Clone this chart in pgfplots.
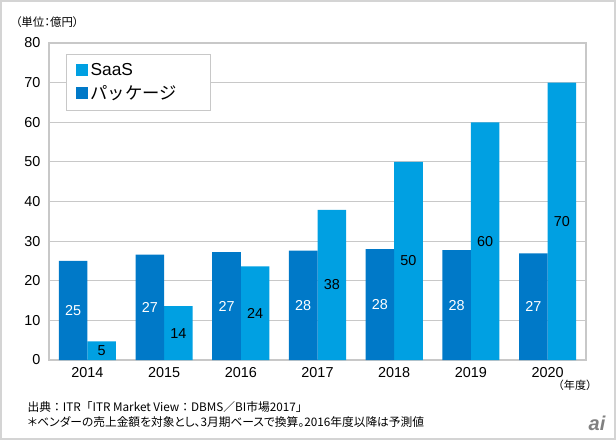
\documentclass[border=0pt]{standalone}
\usepackage{pgfplots}
\usepackage{pgfplotstable}
\pgfplotsset{compat=1.18}
\usepackage{fontspec}
\setmainfont{Liberation Sans}
\newfontfamily\jp{Noto Sans CJK JP}
\newfontfamily\jpp[RawFeature=+palt]{Noto Sans CJK JP}
\definecolor{pkg}{RGB}{0,121,200}
\definecolor{saas}{RGB}{0,160,226}
\definecolor{gridc}{RGB}{200,200,200}
\definecolor{framec}{RGB}{212,212,212}

\pgfplotstableread{
x y lab
0 4.7 5
1 13.6 14
2 23.6 24
3 37.9 38
4 50 50
5 60 60
6 70 70
}\saasdata
\pgfplotstableread{
x y lab
0 25 25
1 26.6 27
2 27.2 27
3 27.6 28
4 28 28
5 27.7 28
6 26.9 27
}\pkgdata

\begin{document}
\begin{tikzpicture}[x=0.75pt,y=0.75pt]
\useasboundingbox (0,0) rectangle (616,440);
\draw[framec, line width=1.5pt] (1,1) rectangle (615,439);
\begin{axis}[
  at={(36.75pt,60pt)}, anchor=south west,
  scale only axis, width=402.75pt, height=237.75pt,
  xmin=-0.5, xmax=6.5, ymin=0, ymax=80,
  xtick={0,...,6}, xticklabels={2014,2015,2016,2017,2018,2019,2020},
  ytick={0,10,...,80},
  major tick length=0pt,
  ymajorgrids, grid style={gridc, line width=0.8pt},
  axis line style={gridc, line width=0.8pt},
  tick label style={font=\fontsize{10.8}{12}\selectfont},
  xticklabel style={yshift=-2pt},
  yticklabel style={xshift=-3pt},
  /pgf/number format/assume math mode=true,
  legend style={at={(0.0317,0.965)}, anchor=north west, draw=gridc, line width=0.8pt,
    font=\fontsize{13}{15}\selectfont, inner xsep=7pt, inner ysep=4.5pt, row sep=2pt},
  legend cell align=left,
]
\addplot[ybar, bar width=0.372, bar shift=0.186, fill=saas, draw=none,
  legend image code/.code={\fill[saas] (0pt,-4.5pt) rectangle (9pt,4.5pt);}]
  table[x=x,y=y] {\saasdata};
\addlegendentry{SaaS}
\addplot[ybar, bar width=0.372, bar shift=-0.186, fill=pkg, draw=none,
  legend image code/.code={\fill[pkg] (0pt,-4.5pt) rectangle (9pt,4.5pt);}]
  table[x=x,y=y] {\pkgdata};
\addlegendentry{\makebox[81pt][l]{\jp パッケージ}}
\addplot[draw=none, mark=none, forget plot, nodes near coords, point meta=explicit symbolic,
  nodes near coords align={center},
  every node near coord/.append style={font=\fontsize{10.8}{12}\selectfont, text=black}]
  table[x expr=\thisrow{x}+0.186, y expr=\thisrow{y}/2, meta=lab] {\saasdata};
\addplot[draw=none, mark=none, forget plot, nodes near coords, point meta=explicit symbolic,
  nodes near coords align={center},
  every node near coord/.append style={font=\fontsize{10.8}{12}\selectfont, text=white}]
  table[x expr=\thisrow{x}-0.186, y expr=\thisrow{y}/2, meta=lab] {\pkgdata};
\end{axis}
\node[anchor=west, font=\jpp\fontsize{8.6}{10}\selectfont] at (11,418) {（単位：億円）};
\node[font=\jp\fontsize{8.3}{10}\selectfont] at (575,55) {（年度）};
\node[anchor=west, font=\jp\fontsize{8.8}{10}\selectfont] at (23,33) {出典：ITR「ITR Market View：DBMS／BI市場2017」};
\node[anchor=west, font=\jpp\fontsize{8.8}{10}\selectfont] at (23,18) {＊ベンダーの売上金額を対象とし、3月期ベースで換算。2016年度以降は予測値};
\node[font=\fontsize{15}{16}\selectfont\bfseries\itshape, text=gray] at (597,17) {ai};
\end{tikzpicture}
\end{document}
